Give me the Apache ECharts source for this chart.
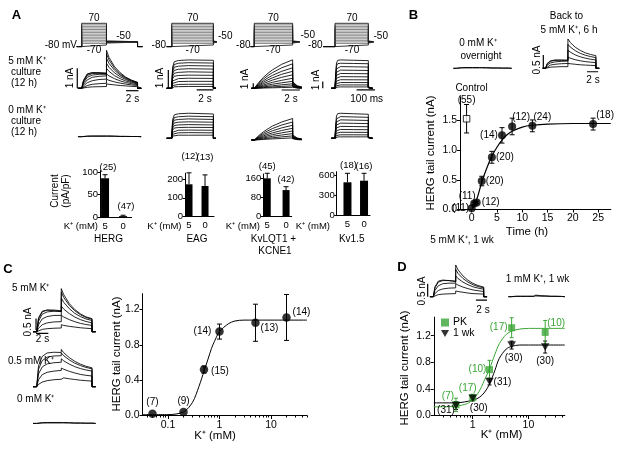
<!DOCTYPE html>
<html><head><meta charset="utf-8">
<script src="https://cdn.jsdelivr.net/npm/echarts@6/dist/echarts.min.js"></script>
<style>html,body{margin:0;padding:0;background:#fff}#c{width:625px;height:449px}</style>
</head><body><div id="c"></div>
<script>
// ===================== DATA =====================
// ---- Panel A : bar charts (current density, pA/pF) ----
const barKLevels = ['5', '0'];
const hergBar = [87, 2],    hergBarErr = [8, 2],     hergBarN = [25, 47];
const eagBar = [172, 163],  eagBarErr = [61, 59],    eagBarN = [12, 13];
const kvlqtBar = [160, 111],kvlqtBarErr = [21, 14],  kvlqtBarN = [45, 42];
const kv15Bar = [501, 525], kv15BarErr = [135, 111], kv15BarN = [18, 16];
const hergBarTicks = [0, 50, 100], eagBarTicks = [0, 100, 200];
const kvlqtBarTicks = [0, 80, 160], kv15BarTicks = [0, 300, 600];

// ---- Panel B : HERG tail current vs time back in 5 mM K+ ----
const bTime    = [0, 0.5, 1, 2, 4, 6, 8, 12, 24];
const bCurrent = [0.02, 0.1, 0.12, 0.48, 0.88, 1.25, 1.4, 1.41, 1.44];
const bErr     = [0, 0.02, 0.02, 0.08, 0.1, 0.13, 0.14, 0.1, 0.1];
const bN       = [11, 11, 12, 20, 20, 14, 12, 24, 18];
const bControlTime = -1, bControlCurrent = 1.53, bControlErr = 0.24, bControlN = 55;
const bFitTime    = [0, 1, 2, 3, 4, 5, 6, 7, 8, 10, 12, 15, 20, 27.5];
const bFitCurrent = [0, 0.17, 0.46, 0.7, 0.9, 1.05, 1.17, 1.26, 1.32, 1.39, 1.42, 1.44, 1.45, 1.45];
const bXTicks = [0, 5, 10, 15, 20, 25];
const bYTicks = [0, 0.5, 1, 1.5];

// ---- Panel C : HERG tail current vs [K+]o ----
const cK       = [0.05, 0.2, 0.5, 1, 5, 20];
const cCurrent = [0.02, 0.04, 0.52, 0.95, 1.05, 1.11];
const cErr     = [0, 0, 0.04, 0.085, 0.21, 0.26];
const cN       = [7, 9, 15, 14, 13, 14];
const cFitK       = [0.032, 0.1, 0.2, 0.3, 0.4, 0.5, 0.6, 0.7, 0.8, 1, 1.5, 2, 3, 5, 50];
const cFitCurrent = [0.01, 0.01, 0.04, 0.15, 0.33, 0.5, 0.64, 0.76, 0.84, 0.95, 1.04, 1.07, 1.08, 1.08, 1.08];
const cXTicks = [0.1, 1, 10];
const cXMinorTicks = [0.04,0.05,0.06,0.07,0.08,0.09,0.2,0.3,0.4,0.5,0.6,0.7,0.8,0.9,2,3,4,5,6,7,8,9,20,30,40,50];
const cYTicks = [0, 0.4, 0.8, 1.2];

// ---- Panel D : PK vs 1 wk ----
const dK        = [0.5, 1, 2, 5, 20];
const dPK       = [0.16, 0.27, 0.69, 1.32, 1.25];
const dPKErr    = [0.1, 0.05, 0.14, 0.15, 0.18];
const dPKN      = [7, 17, 10, 17, 10];
const dWk       = [0.15, 0.26, 0.51, 1.06, 1.03];
const dWkErr    = [0.06, 0.04, 0.05, 0.06, 0.09];
const dWkN      = [31, 30, 31, 30, 30];
const dPKFitK   = [0.2, 0.5, 0.8, 1, 1.3, 1.6, 2, 2.5, 3, 4, 5, 7, 10, 45];
const dPKFit    = [0.13, 0.14, 0.18, 0.24, 0.36, 0.52, 0.7, 0.92, 1.08, 1.22, 1.27, 1.3, 1.31, 1.31];
const dWkFitK   = [0.2, 0.5, 1, 1.3, 1.6, 2, 2.5, 3, 4, 5, 7, 10, 45];
const dWkFit    = [0.19, 0.19, 0.23, 0.27, 0.34, 0.47, 0.68, 0.86, 1.0, 1.04, 1.06, 1.06, 1.06];
const dXTicks = [1, 10];
const dXMinorTicks = [0.3,0.4,0.5,0.6,0.7,0.8,0.9,2,3,4,5,6,7,8,9,20,30,40];
const dYTicks = [0, 0.4, 0.8, 1.2];

// ---- Voltage protocols (mV) ----
const protoVoltages = [-70,-60,-50,-40,-30,-20,-10,0,10,20,30,40,50,60,70];
const holdingV = -80, tailV = -50;

// ---- Current traces (nA) ----
const herT = [0, 0.3, 0.9, 1.7, 2.8, 4.0, 4.0, 4.4, 5.3, 6.2, 7.1, 8.0, 9.0]; // s
const hergA5 = [
 [0,0.02,0.05,0.07,0.08,0.09, 0.22,0.2,0.17,0.14,0.12,0.1,0.08],
 [0,0.06,0.14,0.2,0.23,0.25, 0.45,0.4,0.32,0.26,0.21,0.17,0.14],
 [0,0.12,0.28,0.38,0.44,0.46, 0.72,0.62,0.48,0.37,0.29,0.23,0.18],
 [0,0.2,0.42,0.55,0.6,0.62, 1.0,0.85,0.63,0.48,0.37,0.29,0.22],
 [0,0.28,0.55,0.66,0.7,0.7, 1.25,1.05,0.77,0.58,0.44,0.33,0.25],
 [0,0.34,0.64,0.74,0.76,0.75, 1.5,1.25,0.9,0.66,0.49,0.37,0.27],
 [0,0.38,0.7,0.78,0.78,0.76, 1.72,1.42,1.0,0.72,0.53,0.4,0.29],
 [0,0.4,0.72,0.78,0.76,0.72, 1.9,1.55,1.08,0.78,0.56,0.41,0.3]];
const hergA0 = [
 [0,0.02,0.03,0.04,0.04,0.04, 0.05,0.04,0.03,0.02,0.02,0.01,0.01],
 [0,0.01,0.02,0.02,0.02,0.02, 0.03,0.02,0.02,0.01,0.01,0.01,0.01]];
const bOvernight = [
 [0,0.02,0.03,0.04,0.04,0.04, 0.05,0.04,0.03,0.02,0.02,0.01,0.01],
 [0,0.01,0.02,0.02,0.02,0.02, 0.03,0.02,0.02,0.01,0.01,0.01,0.01]];
const bBack = [
 [0,0.02,0.04,0.05,0.06,0.06, 0.18,0.17,0.15,0.13,0.12,0.11,0.1],
 [0,0.06,0.12,0.15,0.17,0.18, 0.42,0.38,0.32,0.28,0.25,0.23,0.21],
 [0,0.12,0.2,0.24,0.26,0.27, 0.68,0.61,0.5,0.43,0.38,0.34,0.31],
 [0,0.16,0.26,0.3,0.3,0.3, 0.9,0.8,0.66,0.56,0.49,0.44,0.4],
 [0,0.18,0.28,0.31,0.31,0.3, 1.1,0.97,0.79,0.67,0.58,0.52,0.47]];
const c5 = [
 [0,0.05,0.1,0.13,0.15,0.16, 0.3,0.27,0.23,0.2,0.17,0.15,0.13],
 [0,0.15,0.3,0.38,0.42,0.43, 0.7,0.63,0.52,0.43,0.36,0.31,0.27],
 [0,0.3,0.55,0.65,0.7,0.7, 1.1,0.97,0.78,0.63,0.52,0.44,0.38],
 [0,0.45,0.75,0.85,0.88,0.88, 1.45,1.26,0.99,0.79,0.65,0.55,0.48],
 [0,0.55,0.85,0.93,0.93,0.9, 1.7,1.47,1.13,0.9,0.73,0.61,0.53],
 [0,0.6,0.88,0.93,0.9,0.86, 1.85,1.59,1.21,0.95,0.77,0.64,0.56]];
const c05 = [
 [0,0.1,0.2,0.26,0.3,0.32, 0.4,0.38,0.34,0.31,0.28,0.26,0.24],
 [0,0.3,0.52,0.62,0.67,0.7, 0.8,0.75,0.66,0.59,0.53,0.49,0.46],
 [0,0.55,0.85,0.98,1.03,1.05, 1.2,1.11,0.97,0.86,0.78,0.72,0.67],
 [0,0.75,1.12,1.27,1.32,1.33, 1.45,1.33,1.15,1.01,0.91,0.83,0.77],
 [0,0.9,1.3,1.45,1.48,1.47, 1.6,1.46,1.25,1.09,0.97,0.88,0.81]];
const c0 = [
 [0,0.02,0.03,0.04,0.04,0.04, 0.05,0.04,0.03,0.02,0.02,0.01,0.01],
 [0,0.01,0.02,0.02,0.02,0.02, 0.03,0.02,0.02,0.01,0.01,0.01,0.01]];
const d5 = [
 [0,0.04,0.08,0.1,0.11,0.12, 0.22,0.2,0.17,0.14,0.12,0.11,0.1],
 [0,0.12,0.24,0.3,0.33,0.34, 0.5,0.45,0.37,0.31,0.26,0.23,0.2],
 [0,0.24,0.42,0.5,0.52,0.52, 0.8,0.7,0.56,0.46,0.38,0.33,0.29],
 [0,0.34,0.56,0.62,0.62,0.6, 1.05,0.9,0.7,0.56,0.46,0.39,0.34],
 [0,0.38,0.6,0.64,0.62,0.58, 1.22,1.04,0.8,0.63,0.51,0.43,0.37]];
const d1 = [
 [0,0.01,0.02,0.02,0.02,0.02, 0.08,0.06,0.04,0.03,0.02,0.02,0.01],
 [0,0.01,0.01,0.01,0.01,0.01, 0.04,0.03,0.02,0.02,0.01,0.01,0.01]];

const eagT = [0, 0.1, 0.3, 0.8, 2.0, 5.0, 5.0, 5.3]; // s
const eagA5 = [
 [0,1.15,1.45,1.52,1.55,1.53,0,0],[0,1.02,1.3,1.37,1.4,1.38,0,0],
 [0,0.9,1.15,1.21,1.24,1.22,0,0],[0,0.78,0.98,1.04,1.07,1.05,0,0],
 [0,0.65,0.82,0.87,0.9,0.88,0,0],[0,0.52,0.66,0.7,0.72,0.71,0,0],
 [0,0.4,0.5,0.53,0.55,0.54,0,0],[0,0.27,0.35,0.37,0.38,0.38,0,0],
 [0,0.15,0.2,0.21,0.22,0.22,0,0],[0,0.06,0.08,0.09,0.1,0.1,0,0]];
const eagA0 = [
 [0,1.0,1.28,1.34,1.37,1.33,0,0],[0,0.88,1.13,1.18,1.21,1.18,0,0],
 [0,0.77,0.99,1.03,1.06,1.03,0,0],[0,0.66,0.84,0.88,0.9,0.88,0,0],
 [0,0.55,0.7,0.73,0.75,0.73,0,0],[0,0.44,0.56,0.59,0.6,0.59,0,0],
 [0,0.33,0.42,0.44,0.45,0.44,0,0],[0,0.22,0.28,0.3,0.31,0.3,0,0],
 [0,0.12,0.16,0.17,0.17,0.17,0,0]];

const kvlqtT = [0, 0.5, 1, 1.5, 2, 3, 4.2, 4.2, 4.4, 4.7, 5.2]; // s
const kvlqtA5 = [
 [0,1.2,2.2,3.0,3.7,4.8,5.7, 1.3,0.9,0.5,0.25],
 [0,1.0,1.85,2.55,3.15,4.1,4.9, 1.15,0.8,0.45,0.22],
 [0,0.8,1.5,2.1,2.6,3.4,4.1, 1.0,0.7,0.4,0.2],
 [0,0.62,1.2,1.7,2.1,2.8,3.4, 0.85,0.6,0.34,0.17],
 [0,0.47,0.92,1.3,1.65,2.2,2.7, 0.7,0.5,0.28,0.14],
 [0,0.33,0.66,0.95,1.2,1.6,2.0, 0.55,0.4,0.23,0.12],
 [0,0.22,0.45,0.65,0.82,1.1,1.4, 0.42,0.3,0.18,0.09],
 [0,0.13,0.28,0.4,0.5,0.7,0.9, 0.3,0.22,0.13,0.07],
 [0,0.06,0.14,0.21,0.27,0.38,0.5, 0.2,0.15,0.09,0.05],
 [0,0.02,0.05,0.08,0.1,0.15,0.2, 0.1,0.08,0.05,0.03]];
const kvlqtA0 = [
 [0,0.9,1.65,2.25,2.8,3.6,4.3, 1.0,0.7,0.4,0.2],
 [0,0.72,1.35,1.85,2.3,3.0,3.6, 0.85,0.6,0.35,0.17],
 [0,0.56,1.07,1.48,1.85,2.42,2.95, 0.7,0.5,0.29,0.15],
 [0,0.42,0.82,1.15,1.43,1.9,2.35, 0.57,0.41,0.24,0.12],
 [0,0.3,0.6,0.85,1.07,1.43,1.8, 0.45,0.33,0.19,0.1],
 [0,0.2,0.41,0.58,0.74,1.0,1.28, 0.34,0.25,0.15,0.08],
 [0,0.11,0.24,0.35,0.45,0.62,0.82, 0.24,0.18,0.11,0.06],
 [0,0.05,0.11,0.17,0.22,0.31,0.42, 0.15,0.11,0.07,0.04]];

const kv15T = [0, 3, 8, 15, 30, 100, 182, 182, 186, 195]; // ms
const kv15A5 = [
 [0,2.0,3.8,4.2,4.25,4.2,4.15, 0.25,0.12,0.05],
 [0,1.75,3.35,3.7,3.75,3.72,3.68, 0.22,0.1,0.04],
 [0,1.5,2.9,3.2,3.25,3.22,3.18, 0.2,0.09,0.04],
 [0,1.25,2.4,2.68,2.72,2.7,2.67, 0.17,0.08,0.03],
 [0,1.0,1.95,2.18,2.22,2.2,2.18, 0.15,0.07,0.03],
 [0,0.75,1.5,1.7,1.74,1.73,1.71, 0.12,0.06,0.02],
 [0,0.52,1.08,1.24,1.28,1.27,1.26, 0.1,0.05,0.02],
 [0,0.32,0.7,0.83,0.86,0.86,0.85, 0.08,0.04,0.02],
 [0,0.16,0.38,0.47,0.5,0.5,0.5, 0.06,0.03,0.01],
 [0,0.05,0.14,0.18,0.2,0.2,0.2, 0.04,0.02,0.01]];
const kv15A0 = [
 [0,1.75,3.35,3.7,3.75,3.68,3.6, 0.22,0.1,0.04],
 [0,1.5,2.9,3.2,3.25,3.2,3.14, 0.2,0.09,0.04],
 [0,1.26,2.45,2.72,2.76,2.72,2.67, 0.17,0.08,0.03],
 [0,1.02,2.0,2.23,2.27,2.24,2.2, 0.15,0.07,0.03],
 [0,0.8,1.56,1.75,1.78,1.76,1.73, 0.12,0.06,0.02],
 [0,0.58,1.14,1.29,1.32,1.3,1.28, 0.1,0.05,0.02],
 [0,0.38,0.76,0.87,0.9,0.89,0.88, 0.08,0.04,0.02],
 [0,0.2,0.42,0.5,0.52,0.52,0.51, 0.06,0.03,0.01],
 [0,0.07,0.16,0.2,0.21,0.21,0.21, 0.04,0.02,0.01]];

// ===================== LAYOUT / STYLE =====================
const FONT = '"Liberation Sans", Arial, Helvetica, sans-serif';
const GREEN = '#3aa535';
const TRACE_W = 0.85;
// grid rects [left, top, width, height]; axis ranges in data units
const LAY = {
  pH:  {r:[76.1,23.3,67,23.25],  x:[-0.9,9.9], y:[-80,70], p:[-0.8,4.0,9.0,9.8]},
  pE:  {r:[165.9,23.3,52.5,23.25],x:[-0.7,5.6], y:[-80,70], p:[-0.6,5.0,5.4]},
  pQ:  {r:[249.7,23.3,53,23.25], x:[-0.5,5.3], y:[-80,70], p:[-0.4,4.2,4.95]},
  pK:  {r:[321.3,23.3,54.9,23.25],x:[-75,225], y:[-80,70], p:[-65,182,210]},
  aH5: {r:[76.1,48.3,67,47],   x:[-0.9,9.9], y:[-0.35,2.0]},
  aH0: {r:[76.1,96.7,67,47],   x:[-0.9,9.9], y:[-0.35,2.0]},
  aE5: {r:[165.9,57.2,52.5,36.6], x:[-0.7,5.6], y:[-0.3,1.7]},
  aE0: {r:[165.9,107.2,52.5,36.6],x:[-0.7,5.6], y:[-0.3,1.7]},
  aQ5: {r:[249.7,58.3,53,33],  x:[-0.5,5.3], y:[-0.6,6]},
  aQ0: {r:[249.7,110,53,33],   x:[-0.5,5.3], y:[-0.6,6]},
  aK5: {r:[321.3,57.6,54.9,34],x:[-75,225], y:[-0.5,4.6]},
  aK0: {r:[321.3,107.6,54.9,34],x:[-75,225],y:[-0.5,4.6]},
  b0:  {r:[453.3,48.3,58.4,26], x:[-0.5,9.6], y:[-0.3,1]},
  b5:  {r:[542.7,37.6,57.7,36], x:[-0.5,9.8], y:[-0.2,1.15]},
  c5:  {r:[32.4,286.3,63.3,52.4], x:[-0.7,9.6], y:[-0.3,1.95]},
  c05: {r:[32.4,341.3,63.3,52.4], x:[-0.7,9.6], y:[-0.3,1.95]},
  c0:  {r:[32.4,378,63.3,52.4],   x:[-0.7,9.6], y:[-0.3,1.95]},
  d5:  {r:[426,262.9,66.1,41.6],  x:[-1.3,10.5], y:[-0.3,1.3]},
  d1:  {r:[508.3,262.9,56.6,41.6],x:[-0.5,9.6], y:[-0.3,1.3]},
  barH:{r:[100,170.7,31.7,46.3], x:[-0.28,1.48], y:[0,104]},
  barE:{r:[185,173.2,29,43.5],   x:[-0.25,1.56], y:[0,231]},
  barQ:{r:[263.3,174,28.4,42.7], x:[-0.21,1.3],  y:[0,178]},
  barK:{r:[336.7,171.7,33.3,44], x:[-0.65,1.36], y:[0,660]},
  B:   {r:[460,96.8,150.8,112.7], x:[-2.3,27.5], y:[0,1.9]},
  C:   {r:[142.5,293.6,164.5,121.9], x:[0.032,50], y:[0,1.38]},
  D:   {r:[433.8,317.1,131,98.4], x:[0.2,45], y:[0,1.48]}
};
// scale bars: v=[x, y0, y1], h=[x0, x1, y]
const SCALE = {
  aH5:{v:[-0.71,0,1], h:[7.15,9.15,-0.12]},
  aE5:{v:[-0.41,0,1], h:[3.0,5.0,-0.09]},
  aQ5:{v:[-0.11,0,1], h:[3.0,5.0,-0.34]},
  aK5:{v:[-67,0,1],   h:[118,218,-0.25]},
  b5: {v:[-0.39,0,0.5], h:[7.4,9.4,-0.13]},
  c5: {v:[-0.11,0.07,0.57], h:[-0.11,1.89,-0.07]},
  d5: {v:[-1.0,0,0.5], h:[7.6,9.6,-0.13]}
};
// label offsets in px (dx, dy)
const OFF = {
  barH:[[3,-7],[3,-8.5]], barE:[[1,-16],[0,-18]], barQ:[[0,-7],[0,-7]], barK:[[1,-8],[0,-7]],
  B:[[-11,0],[-7,-7],[14,0],[13,0],[13,0],[-13,0],[9,-9],[10,-9],[12,-9]], Bc:[[0,-18]],
  C:[[0,-11],[0,-11],[16,2],[-17,0],[14,5],[15,-5]],
  DPK:[[-8,-9],[-5,-9],[-12,0],[-13,0],[11,-9]],
  DWk:[[-10,5],[6,10],[13,1],[2,13],[0,14]]
};

// ===================== BUILD =====================
const grids = [], xAxes = [], yAxes = [], series = [], graphics = [];
const G = {};
Object.keys(LAY).forEach(k => {
  const l = LAY[k], i = grids.length; G[k] = i;
  grids.push({left:l.r[0], top:l.r[1], width:l.r[2], height:l.r[3], containLabel:false});
  xAxes.push({gridIndex:i, type:'value', min:l.x[0], max:l.x[1], show:false});
  yAxes.push({gridIndex:i, type:'value', min:l.y[0], max:l.y[1], show:false});
});
function axisStyle(ax, o) {
  Object.assign(ax, {
    show:true, position:o.pos,
    axisLine:{show:true, onZero:false, lineStyle:{color:'#000', width:1}},
    axisTick:{show:!!o.ticks, customValues:o.ticks, length:o.tl||3, lineStyle:{color:'#000', width:1}},
    axisLabel:{show:!!o.labels, customValues:o.labels, formatter:o.fmt, color:'#000',
      fontSize:o.fs||10, fontFamily:FONT, margin:o.m||3},
    splitLine:{show:false}
  });
  if (o.log) { ax.type = 'log'; ax.logBase = 10; }
}
const fix1 = v => (Math.round(v*10)/10).toFixed(1);
const kLab = v => barKLevels[Math.round(v)];
// bar chart axes
[['barH',hergBarTicks],['barE',eagBarTicks],['barQ',kvlqtBarTicks],['barK',kv15BarTicks]].forEach(([k,t]) => {
  axisStyle(xAxes[G[k]], {pos:'bottom', ticks:null, labels:[0,1], fmt:kLab, fs:9.5, m:4});
  axisStyle(yAxes[G[k]], {pos:'left', ticks:t, labels:t, fmt:v=>String(v), fs:9.5, m:2, tl:2.5});
});
axisStyle(xAxes[G.B], {pos:'bottom', ticks:bXTicks, labels:bXTicks, fmt:v=>String(v), fs:10.5, m:3});
axisStyle(yAxes[G.B], {pos:'left', ticks:bYTicks, labels:bYTicks, fmt:fix1, fs:10.5, m:3});
axisStyle(xAxes[G.C], {pos:'bottom', log:true, ticks:cXTicks, labels:cXTicks, fmt:v=>String(+v.toPrecision(3)), fs:10.5, m:4, tl:3.5});
axisStyle(yAxes[G.C], {pos:'left', ticks:cYTicks, labels:cYTicks, fmt:fix1, fs:10.5, m:3});
axisStyle(xAxes[G.D], {pos:'bottom', log:true, ticks:dXTicks, labels:dXTicks, fmt:v=>String(+v.toPrecision(3)), fs:10.5, m:4, tl:3.5});
axisStyle(yAxes[G.D], {pos:'left', ticks:dYTicks, labels:dYTicks, fmt:fix1, fs:10.5, m:3});
// minor tick axes for log scales
[['C',cXMinorTicks],['D',dXMinorTicks]].forEach(([k,mt]) => {
  const ax = {gridIndex:G[k], min:LAY[k].x[0], max:LAY[k].x[1]};
  axisStyle(ax, {pos:'bottom', log:true, ticks:mt, labels:null, tl:2});
  ax.axisLine.show = false;
  xAxes.push(ax);
});

function line(g, data, color, width, extra) {
  series.push(Object.assign({type:'line', xAxisIndex:g, yAxisIndex:g, data, symbol:'none', showSymbol:false,
    lineStyle:{color, width}, silent:true, clip:false, z:2, animation:false}, extra||{}));
}
// voltage protocols
['pH','pE','pQ','pK'].forEach(k => {
  const p = LAY[k].p, g = G[k];
  const order = protoVoltages.filter(v => v!==70 && v!==-70).concat([70,-70]);
  order.forEach(v => {
    const d = [[p[0],holdingV],[0,holdingV],[0,v],[p[1],v],[p[1],tailV],[p[2],tailV]];
    if (p[3] != null) d.push([p[2],holdingV],[p[3],holdingV]);
    line(g, d, (v===70||v===-70)?'#000':'#6a6a6a', 0.8);
  });
});
// traces
function traces(k, times, curves, pre, post, w) {
  curves.forEach(c => {
    const d = [];
    if (pre != null) d.push([pre, 0]);
    times.forEach((t,i) => d.push([t, c[i]]));
    if (post != null) { d.push([times[times.length-1], 0]); d.push([post, 0]); }
    line(G[k], d, '#000', w||TRACE_W);
  });
}
traces('aH5', herT, hergA5, -0.6, 9.6);
traces('aH0', herT, hergA0, -0.6, 9.6, 0.9);
traces('aE5', eagT, eagA5, -0.6, null);
traces('aE0', eagT, eagA0, -0.6, null);
traces('aQ5', kvlqtT, kvlqtA5, -0.3, null);
traces('aQ0', kvlqtT, kvlqtA0, -0.3, null);
traces('aK5', kv15T, kv15A5, -20, 205);
traces('aK0', kv15T, kv15A0, -20, 205);
traces('b0', herT, bOvernight, -0.5, 9.6, 0.9);
traces('b5', herT, bBack, -0.5, 9.6);
traces('c5', herT, c5, -0.6, 9.6);
traces('c05', herT, c05, -0.6, 9.6);
traces('c0', herT, c0, -0.6, 9.6, 0.9);
traces('d5', herT, d5, -0.6, 9.6);
traces('d1', herT, d1, -0.5, 9.6, 0.9);
// scale bars
Object.keys(SCALE).forEach(k => {
  const s = SCALE[k];
  line(G[k], [[s.v[0],s.v[1]],[s.v[0],s.v[2]]], '#000', 1.2);
  line(G[k], [[s.h[0],s.h[2]],[s.h[1],s.h[2]]], '#000', 1.2);
});

// error bars + n labels
function errSeries(g, pts, color, upOnly, cap) {
  series.push({type:'custom', xAxisIndex:g, yAxisIndex:g, data:pts, clip:false, silent:true, z:3, animation:false,
    renderItem(params, api) {
      const x = api.value(0), y = api.value(1), e = api.value(2);
      if (!e) return null;
      const t = api.coord([x, y+e]), b = api.coord([x, upOnly ? y : y-e]);
      const st = {stroke:color, lineWidth:1};
      const ch = [{type:'line', shape:{x1:t[0],y1:t[1],x2:b[0],y2:b[1]}, style:st},
                  {type:'line', shape:{x1:t[0]-cap,y1:t[1],x2:t[0]+cap,y2:t[1]}, style:st}];
      if (!upOnly) ch.push({type:'line', shape:{x1:b[0]-cap,y1:b[1],x2:b[0]+cap,y2:b[1]}, style:st});
      return {type:'group', children:ch};
    }});
}
function labelSeries(g, pts, offs, color, fs) {
  series.push({type:'custom', xAxisIndex:g, yAxisIndex:g, data:pts, clip:false, silent:true, z:6, animation:false,
    renderItem(params, api) {
      const p = api.coord([api.value(0), api.value(1)]), o = offs[params.dataIndex];
      return {type:'text', x:p[0]+o[0], y:p[1]+o[1], style:{text:'('+api.value(2)+')',
        align:'center', verticalAlign:'middle', textAlign:'center', textVerticalAlign:'middle',
        font:(fs||10)+'px '+FONT, fill:color}};
    }});
}
// bar charts
[['barH',hergBar,hergBarErr,hergBarN,8],['barE',eagBar,eagBarErr,eagBarN,7],
 ['barQ',kvlqtBar,kvlqtBarErr,kvlqtBarN,7],['barK',kv15Bar,kv15BarErr,kv15BarN,8]].forEach(([k,v,e,n,bw]) => {
  const g = G[k];
  series.push({type:'bar', xAxisIndex:g, yAxisIndex:g, data:v.map((y,i)=>[i,y]), barWidth:bw,
    itemStyle:{color:'#000'}, silent:true, animation:false, z:2});
  errSeries(g, v.map((y,i)=>[i,y,e[i]]), '#000', true, 2.5);
  labelSeries(g, v.map((y,i)=>[i,y+e[i],n[i]]), OFF[k], '#000', 9.5);
});
// panel B
line(G.B, bFitTime.map((t,i)=>[t,bFitCurrent[i]]), '#000', 1.2, {smooth:0.3});
errSeries(G.B, bTime.map((t,i)=>[t,bCurrent[i],bErr[i]]), '#000', false, 2.5);
errSeries(G.B, [[bControlTime,bControlCurrent,bControlErr]], '#000', false, 2.5);
series.push({type:'scatter', xAxisIndex:G.B, yAxisIndex:G.B, data:bTime.map((t,i)=>[t,bCurrent[i]]),
  symbol:'circle', symbolSize:8, itemStyle:{color:'#000'}, silent:true, clip:false, z:4, animation:false});
series.push({type:'scatter', xAxisIndex:G.B, yAxisIndex:G.B, data:[[bControlTime,bControlCurrent]],
  symbol:'rect', symbolSize:6.5, itemStyle:{color:'#fff', borderColor:'#000', borderWidth:1}, silent:true, clip:false, z:4, animation:false});
labelSeries(G.B, bTime.map((t,i)=>[t,bCurrent[i],bN[i]]), OFF.B, '#000');
labelSeries(G.B, [[bControlTime,bControlCurrent,bControlN]], OFF.Bc, '#000');
// panel C
line(G.C, cFitK.map((k,i)=>[k,cFitCurrent[i]]), '#000', 1, {smooth:0.3});
errSeries(G.C, cK.map((k,i)=>[k,cCurrent[i],cErr[i]]), '#000', false, 2.5);
series.push({type:'scatter', xAxisIndex:G.C, yAxisIndex:G.C, data:cK.map((k,i)=>[k,cCurrent[i]]),
  symbol:'circle', symbolSize:8.5, itemStyle:{color:'#000'}, silent:true, clip:false, z:4, animation:false});
labelSeries(G.C, cK.map((k,i)=>[k,cCurrent[i],cN[i]]), OFF.C, '#000');
// panel D
const TRI_DOWN = 'path://M0,0L10,0L5,9Z';
line(G.D, dWkFitK.map((k,i)=>[k,dWkFit[i]]), '#000', 1, {smooth:0.3});
line(G.D, dPKFitK.map((k,i)=>[k,dPKFit[i]]), GREEN, 1, {smooth:0.3});
errSeries(G.D, dK.map((k,i)=>[k,dWk[i],dWkErr[i]]), '#000', false, 2);
errSeries(G.D, dK.map((k,i)=>[k,dPK[i],dPKErr[i]]), GREEN, false, 2);
series.push({name:'PK', type:'scatter', xAxisIndex:G.D, yAxisIndex:G.D, data:dK.map((k,i)=>[k,dPK[i]]),
  symbol:'rect', symbolSize:7, itemStyle:{color:GREEN}, silent:true, clip:false, z:4, animation:false});
series.push({name:'1 wk', type:'scatter', xAxisIndex:G.D, yAxisIndex:G.D, data:dK.map((k,i)=>[k,dWk[i]]),
  symbol:TRI_DOWN, symbolSize:[8.5,7.5], itemStyle:{color:'#000'}, silent:true, clip:false, z:5, animation:false});
labelSeries(G.D, dK.map((k,i)=>[k,dPK[i],dPKN[i]]), OFF.DPK, GREEN);
labelSeries(G.D, dK.map((k,i)=>[k,dWk[i],dWkN[i]]), OFF.DWk, '#000');

// ---------- text ----------
function txt(text, x, y, o) {
  o = o || {};
  graphics.push({type:'text', x, y, rotation:o.rot||0, silent:true, z:10,
    style:{text, align:o.align||'center', textAlign:o.align||'center', verticalAlign:'middle', textVerticalAlign:'middle',
      font:(o.bold?'bold ':'')+(o.size||10)+'px '+FONT, fill:o.color||'#000'}});
}
const ROT = Math.PI/2;
// panel letters
txt('A', 16.5, 15, {bold:true, size:13});
txt('B', 413.5, 15, {bold:true, size:13});
txt('C', 8, 269, {bold:true, size:13});
txt('D', 402, 267, {bold:true, size:13});
// A protocol labels
[[94,'pH',77,'-80 mV'],[192.7,'pE',166,'-80'],[273.3,'pQ',250.5,'-80'],[352,'pK',322.5,'-80']].forEach(a => {
  txt('70', a[0], 18); txt('-70', a[0], 50);
  txt(a[3], a[2], 45.5, {align:'right'});
});
txt('-50', 123.5, 36.5);
txt('-50', 218, 36.5, {align:'left'});
txt('-50', 300.5, 35.5, {align:'left'});
txt('-50', 373.5, 36.5, {align:'left'});
// A trace labels
txt('5 mM K\u207A', 27, 61); txt('culture', 26, 72); txt('(12 h)', 24, 83);
txt('0 mM K\u207A', 27, 110); txt('culture', 26, 121); txt('(12 h)', 24, 132);
txt('1 nA', 70.5, 78, {rot:ROT}); txt('1 nA', 160.5, 78, {rot:ROT});
txt('1 nA', 245.5, 79, {rot:ROT}); txt('1 nA', 316, 80, {rot:ROT});
txt('2 s', 132.5, 99); txt('2 s', 205, 99); txt('2 s', 291, 99); txt('100 ms', 366.7, 99);
// A bar labels
txt('Current', 55, 191, {rot:ROT, size:10}); txt('(pA/pF)', 66, 191, {rot:ROT, size:10});
txt('K\u207A (mM)', 98, 226.5, {align:'right', size:9.5});
txt('K\u207A (mM)', 181.5, 226.5, {align:'right', size:9.5});
txt('K\u207A (mM)', 260, 226.5, {align:'right', size:9.5});
txt('K\u207A (mM)', 330, 226.5, {align:'right', size:9.5});
txt('HERG', 108.5, 239.5); txt('EAG', 197, 239.5);
txt('KvLQT1 +', 273.5, 239.5); txt('KCNE1', 275, 251); txt('Kv1.5', 351.7, 239.5);
// B labels
txt('0 mM K\u207A', 478, 43.5); txt('overnight', 481, 56.5);
txt('Back to', 566.5, 16); txt('5 mM K\u207A, 6 h', 569, 30);
txt('0.5 nA', 537, 60, {rot:ROT}); txt('2 s', 593, 80);
txt('Control', 471.5, 88);
txt('HERG tail current (nA)', 431, 153, {rot:ROT, size:11.5});
txt('Time (h)', 527, 231.5, {size:11.5});
// C labels
txt('5 mM K\u207A', 12, 288, {align:'left'});
txt('0.5 mM K\u207A', 8, 361.5, {align:'left'});
txt('0 mM K\u207A', 17, 399, {align:'left'});
txt('0.5 nA', 28.5, 322, {rot:ROT}); txt('2 s', 42.5, 339.5);
txt('HERG tail current (nA)', 117, 354, {rot:ROT, size:11.5});
txt('K\u207A (mM)', 215, 436, {size:11.5});
// D labels
txt('5 mM K\u207A, 1 wk', 462, 240);
txt('1 mM K\u207A, 1 wk', 537.5, 279);
txt('0.5 nA', 422, 291, {rot:ROT}); txt('2 s', 483, 310);
txt('HERG tail current (nA)', 405, 368, {rot:ROT, size:11.5});
txt('K\u207A (mM)', 501.5, 435, {size:11.5});

const chart = echarts.init(document.getElementById('c'), null, {renderer:'canvas', width:625, height:449});
chart.setOption({
  animation:false, backgroundColor:'#fff',
  textStyle:{fontFamily:FONT},
  grid:grids, xAxis:xAxes, yAxis:yAxes, series,
  legend:{data:['PK','1 wk'], left:441, top:317, orient:'vertical', itemWidth:8, itemHeight:8, itemGap:0,
    padding:0, selectedMode:false, textStyle:{fontSize:10.5, fontFamily:FONT, color:'#000', padding:[0,0,0,-1]}},
  graphic:graphics
});
</script></body></html>
